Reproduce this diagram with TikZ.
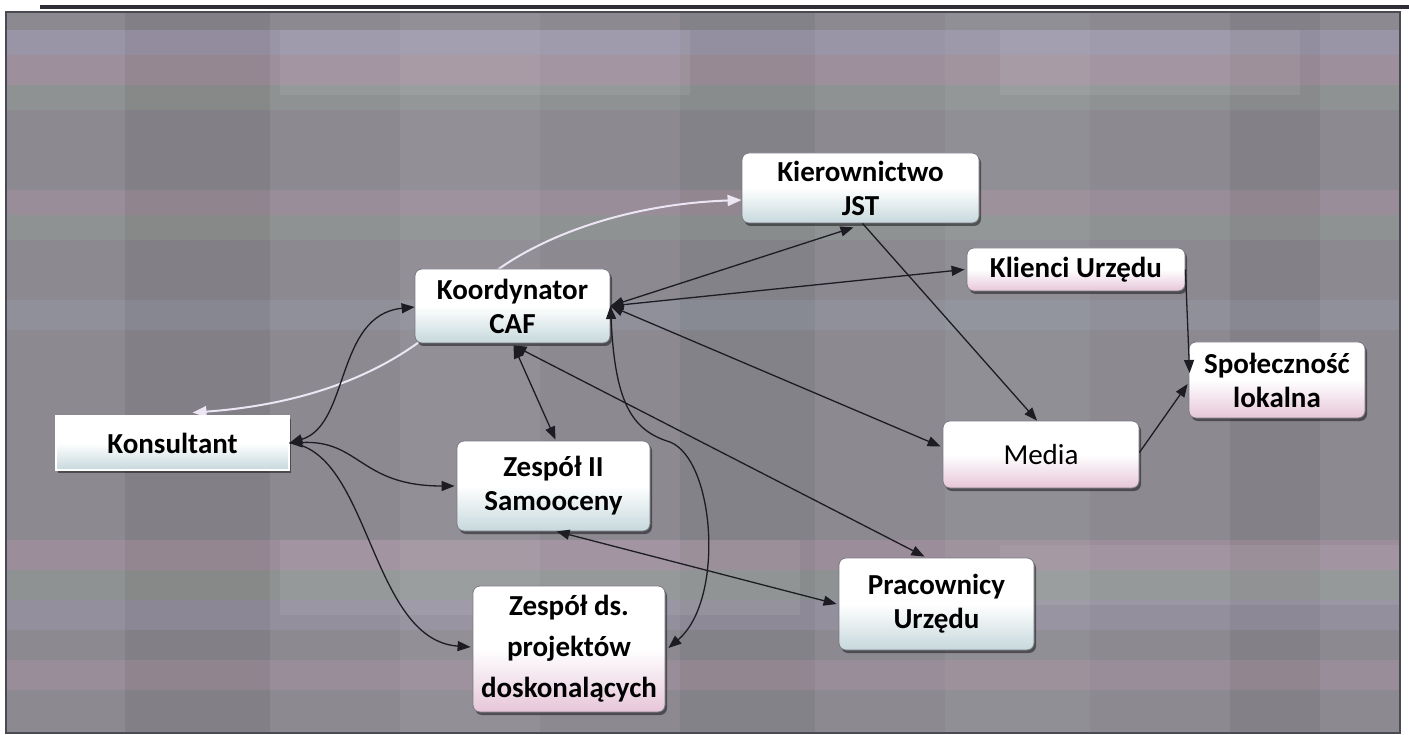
\documentclass[tikz,border=0pt]{standalone}
\usepackage{fontspec}
\setmainfont{Carlito}
\usetikzlibrary{arrows.meta,shadows,calc}
\definecolor{bgbase}{HTML}{8C8991}
\definecolor{framec}{HTML}{4A4A52}
\definecolor{topc}{HTML}{2E2E36}
\definecolor{boxline}{HTML}{7A7A84}
\definecolor{boxbot}{HTML}{C6D8DC}
\definecolor{boxpink}{HTML}{E6C6D8}
\definecolor{linkc}{HTML}{1C1C22}
\definecolor{wlinkc}{HTML}{ECE6F4}
\definecolor{bandpink}{HTML}{E2A8C4}
\definecolor{bandgreen}{HTML}{A6C8A0}
\definecolor{bandlav}{HTML}{C2B6E6}
\definecolor{bandblue}{HTML}{A8C4E0}
\pgfdeclarelayer{bg}
\pgfdeclarelayer{links}
\pgfsetlayers{bg,links,main}
\begin{document}
\begin{tikzpicture}[x=1pt,y=-1pt,
  box/.style={draw=boxline, line width=0.8pt, rounded corners=7pt,
    top color=white, bottom color=boxbot, middle color=white,
    align=center, inner sep=0pt,
    font=\bfseries\fontsize{29}{34}\selectfont,
    drop shadow={shadow xshift=2pt,shadow yshift=-3pt,opacity=0.45,fill=black}},
  pinkbox/.style={bottom color=boxpink, middle color=white},
  link/.style={draw=linkc, line width=1.3pt, >={Triangle[length=13pt,width=10pt]}},
  wlink/.style={draw=wlinkc, line width=2pt, >={Triangle[length=14pt,width=11pt]}}
]
\useasboundingbox (0,0) rectangle (1409,735);

% ---------- background ----------
\begin{pgfonlayer}{bg}
\fill[white] (0,0) rectangle (1409,735);
\fill[bgbase] (6,12) rectangle (1400,733);
\foreach \a/\b/\c/\o in {125/270/black/0.07, 400/540/white/0.06, 680/815/black/0.05, 945/1090/white/0.05, 1230/1320/black/0.06}
  {\fill[\c, opacity=\o] (\a,12) rectangle (\b,733);}
\foreach \a/\b/\c/\o in {30/55/bandlav/0.25, 55/85/bandpink/0.2, 85/110/bandgreen/0.15,
   190/215/bandpink/0.15, 215/240/bandgreen/0.15, 300/330/bandblue/0.12,
   540/570/bandpink/0.18, 570/600/bandgreen/0.15, 600/630/bandlav/0.15, 660/690/bandpink/0.15}
  {\fill[\c, opacity=\o] (6,\a) rectangle (1400,\b);}
\foreach \xa/\ya/\xb/\yb in {280/30/690/95, 1000/30/1300/95, 280/540/800/615, 1000/545/1400/605}
  {\fill[white, opacity=0.07] (\xa,\ya) rectangle (\xb,\yb);}
\draw[framec, line width=1.5pt] (6,12) rectangle (1400,733);
\draw[topc, line width=4pt] (40,7) -- (1409,7);
\end{pgfonlayer}

% ---------- nodes ----------
\node[box, minimum width=237pt, minimum height=70pt] (kier) at (860.5,188) {Kierownictwo\\JST};
\node[box, pinkbox, minimum width=218pt, minimum height=43pt] (klienci) at (1076,269.5) {Klienci Urzędu};
\node[box, minimum width=195pt, minimum height=74pt] (koord) at (512.5,306) {Koordynator\\CAF};
\node[box, pinkbox, minimum width=176pt, minimum height=76pt] (spol) at (1277,380) {Społeczność\\lokalna};
\node[box, rounded corners=0pt, draw=framec, double=white, double distance=1.2pt,
      minimum width=233pt, minimum height=54pt] (kons) at (172.5,443) {Konsultant};
\node[box, pinkbox, font=\mdseries\fontsize{29}{34}\selectfont,
      minimum width=196pt, minimum height=67pt] (media) at (1041,454.5) {Media};
\node[box, minimum width=193pt, minimum height=90pt] (zesp2) at (553.5,486) {Zespół II\\Samooceny};
\node[box, minimum width=195pt, minimum height=92pt] (prac) at (936.5,604) {Pracownicy\\Urzędu};
\node[box, pinkbox, font=\bfseries\fontsize{29}{41}\selectfont,
      minimum width=192pt, minimum height=126pt] (zespds) at (569,649) {Zespół ds.\\projektów\\doskonalących};

% ---------- light connector (behind Koordynator) ----------
\begin{pgfonlayer}{links}
\draw[wlink,<->] ($(kons.north)+(20,-3)$) .. controls (300,405) and (400,375) .. (465,300)
   .. controls (500,255) and (600,205) .. ($(kier.west)+(0,12)$);
\end{pgfonlayer}

% ---------- dark connectors ----------
\draw[link,<->] (kons.east) .. controls (350,425) and (335,315) .. ($(koord.west)+(0,1)$);
\draw[link,<->] (kons.east) .. controls (360,440) and (360,486) .. ($(zesp2.west)+(-2,0)$);
\draw[link,->] (kons.east) .. controls (370,450) and (370,640) .. ($(zespds.west)+(-2,-2)$);
\draw[link,<->] ($(koord.south)+(1,2)$) -- ($(zesp2.north)+(2,-1)$);
\draw[link,<->] ($(koord.south)+(1,2)$) -- ($(prac.north)+(-12,-1)$);
\draw[link,<->] (koord.east) -- ($(kier.south)+(-7,4)$);
\draw[link,<->] (koord.east) -- ($(klienci.west)+(-2,0)$);
\draw[link,<->] (koord.east) -- ($(media.west)+(-2,-8)$);
\draw[link,<->] (koord.east) .. controls (615,400) and (630,430) .. (670,442)
   .. controls (715,460) and (725,600) .. ($(zespds.east)+(3,-1)$);
\draw[link,->] ($(kier.south)+(2,0)$) -- ($(media.north)+(-4,0)$);
\draw[link,->] (klienci.east) -- ($(spol.west)+(1,-7)$);
\draw[link,->] ($(media.east)+(0,-2)$) -- ($(spol.west)+(-1,4)$);
\draw[link,<->] ($(zesp2.south)+(3,0)$) -- ($(prac.west)+(-2,0)$);
\end{tikzpicture}
\end{document}
